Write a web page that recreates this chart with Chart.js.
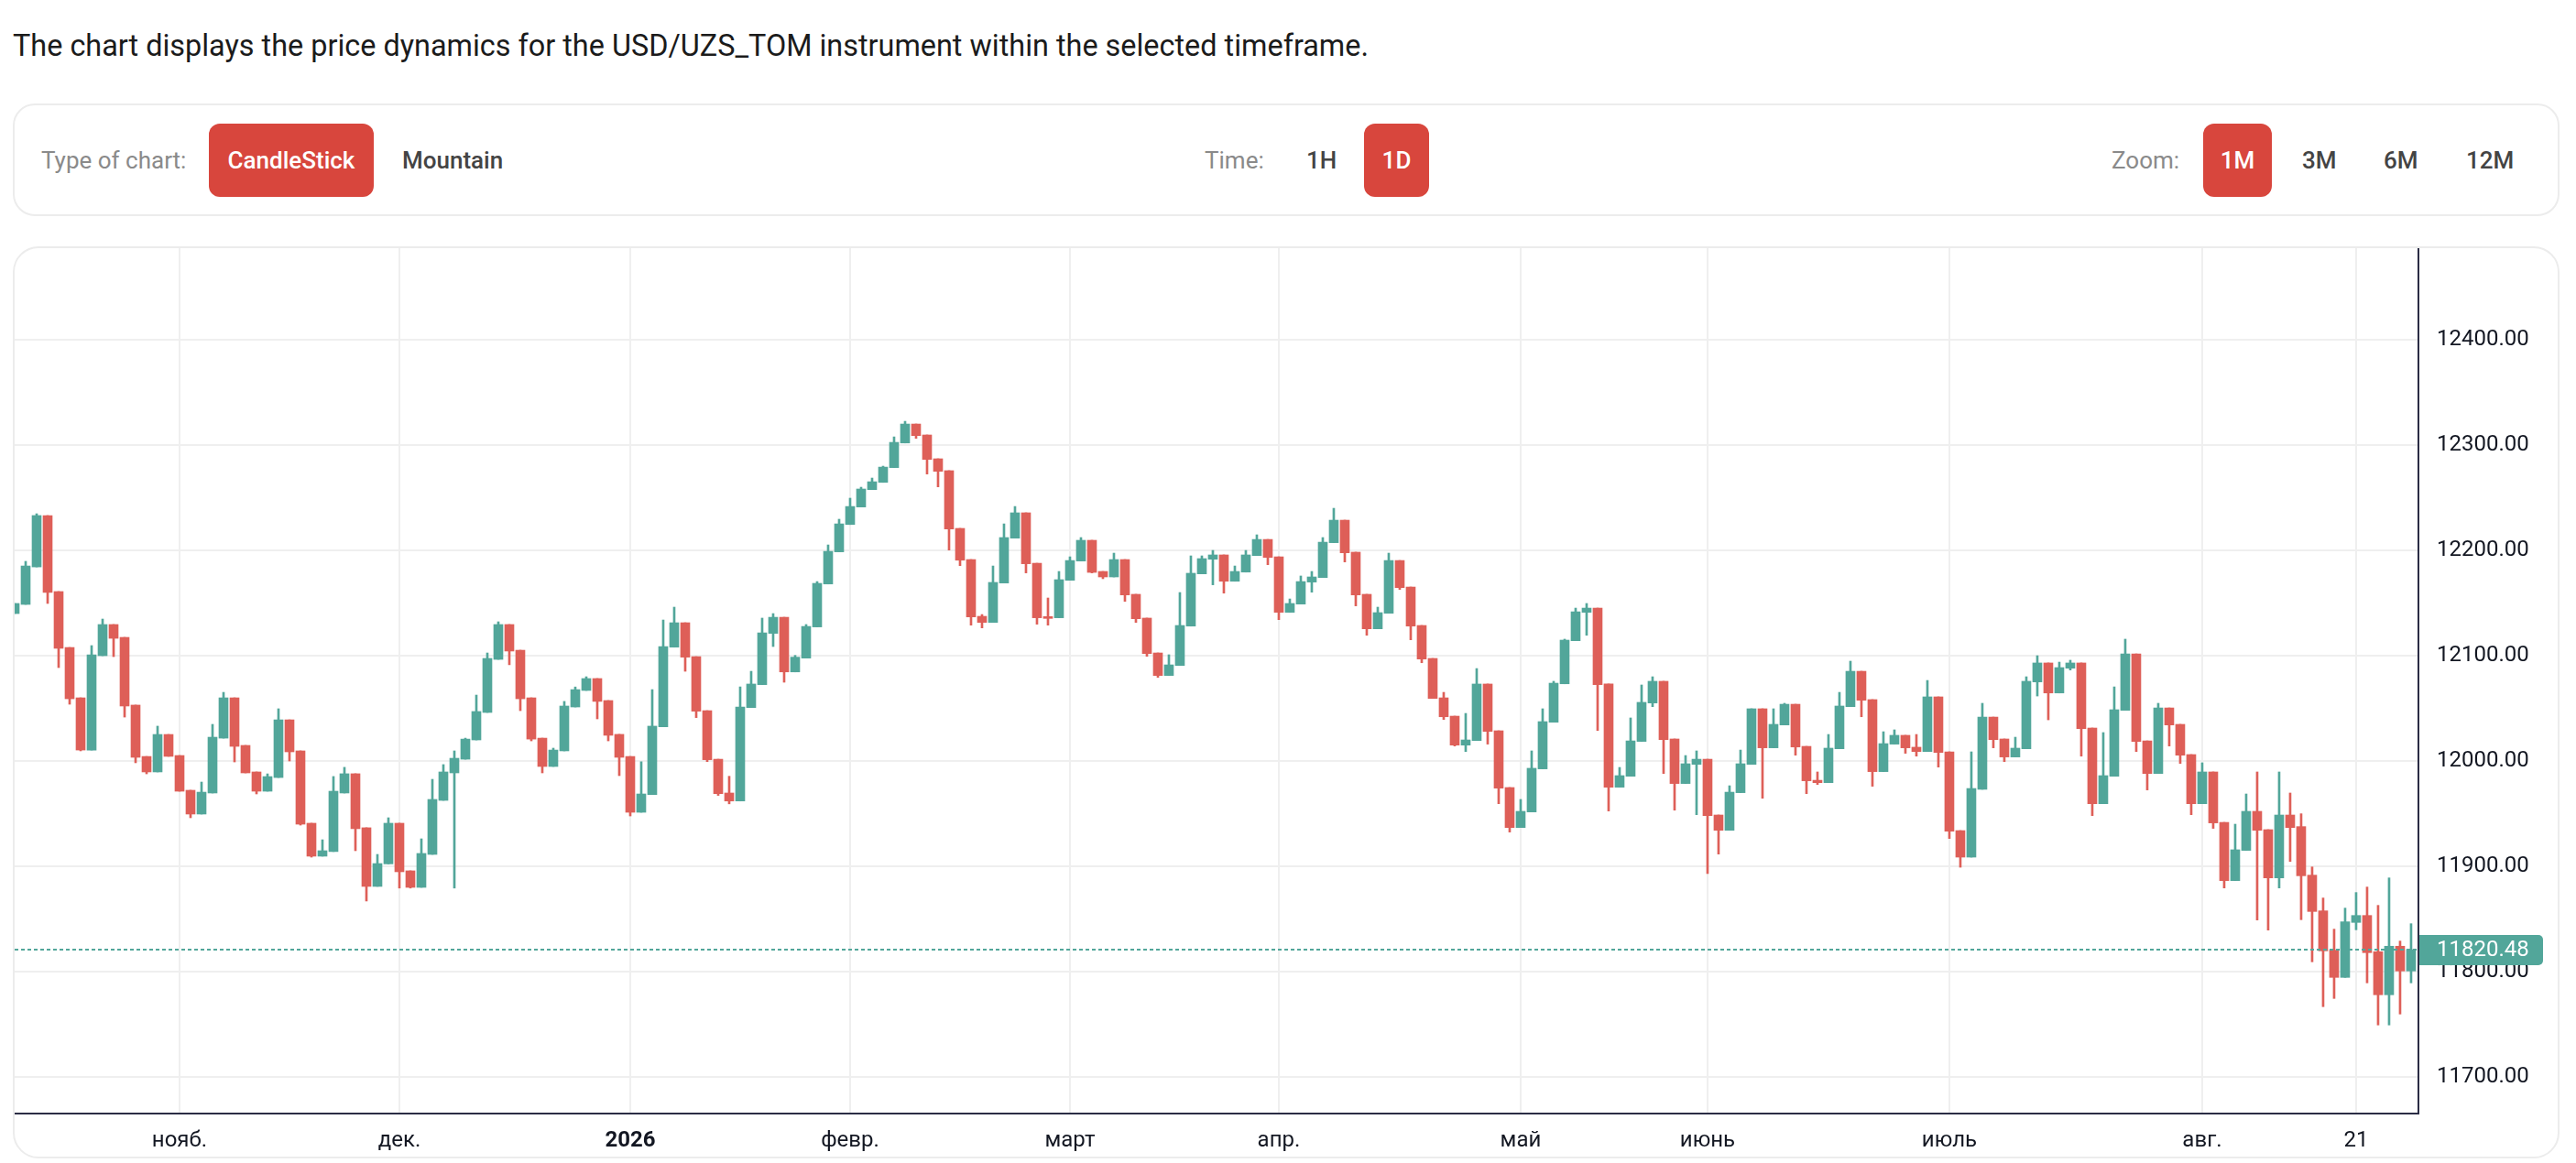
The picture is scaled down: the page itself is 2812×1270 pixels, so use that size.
<!DOCTYPE html>
<html>
<head>
<meta charset="utf-8">
<script src="https://cdn.jsdelivr.net/npm/chart.js@4.4.1/dist/chart.umd.min.js"></script>
<style>
  html, body { margin: 0; padding: 0; background: #ffffff; }
  body { width: 2812px; height: 1270px; position: relative; overflow: hidden; font-family: Roboto, "Noto Sans", sans-serif; }
  .abs { position: absolute; white-space: nowrap; }
  #title { left: 14px; top: 34px; height: 32px; line-height: 32px; font-size: 32.4px; color: #1b1b1b; }
  #controls { left: 14px; top: 113px; width: 2780px; height: 123px; box-sizing: border-box; border: 2px solid #ececec; border-radius: 24px; }
  .lbl { top: 135px; height: 80px; line-height: 80px; font-size: 26px; color: #8a8a8a; }
  .opt { top: 135px; height: 80px; line-height: 80px; font-size: 26px; color: #444444; font-weight: 500; }
  .btn { top: 135px; height: 80px; line-height: 80px; font-size: 26px; color: #ffffff; font-weight: 500; background: #d8463d; border-radius: 12px; text-align: center; }
  #card { left: 14px; top: 269px; width: 2780px; height: 996px; box-sizing: border-box; border: 2px solid #ececec; border-radius: 28px; overflow: hidden; }
  #wrap { position: absolute; left: 0; top: 0; width: 2776px; height: 992px; }
</style>
</head>
<body>
<div id="title" class="abs">The chart displays the price dynamics for the USD/UZS_TOM instrument within the selected timeframe.</div>
<div id="controls" class="abs"></div>
<div class="abs lbl" style="left:45px">Type of chart:</div>
<div class="abs btn" style="left:228px;width:180px">CandleStick</div>
<div class="abs opt" style="left:439px">Mountain</div>
<div class="abs lbl" style="left:1315px">Time:</div>
<div class="abs opt" style="left:1426px">1H</div>
<div class="abs btn" style="left:1489px;width:71px">1D</div>
<div class="abs lbl" style="left:2305px">Zoom:</div>
<div class="abs btn" style="left:2405px;width:75px">1M</div>
<div class="abs opt" style="left:2513px">3M</div>
<div class="abs opt" style="left:2602px">6M</div>
<div class="abs opt" style="left:2692px">12M</div>
<div id="card" class="abs"><div id="wrap"><canvas id="c"></canvas></div></div>
<script>
// ---- Data ----
const openP = [
12139.7,12148.4,12184.0,12232.8,12160.6,12107.5,12059.7,12010.1,12099.7,12129.3,
12117.1,12052.8,12004.0,11989.3,12024.9,12004.9,11971.9,11949.3,11969.3,12021.4,
12059.7,12014.5,11989.3,11971.0,11984.0,12038.8,12009.3,11940.6,11909.3,11913.7,
11969.3,11987.6,11936.3,11880.6,11902.0,11940.6,11895.4,11879.7,11911.0,11962.3,
11988.4,12001.4,12019.7,12045.8,12096.2,12129.3,12104.9,12059.7,12021.4,11994.5,
12009.3,12051.0,12066.7,12078.0,12057.1,12025.0,12004.0,11951.0,11967.8,12032.2,
12107.8,12131.0,12098.8,12047.5,12001.4,11969.3,11961.7,12050.4,12072.2,12120.9,
12136.2,12084.3,12097.4,12127.0,12167.8,12198.3,12224.3,12240.9,12257.4,12264.3,
12278.3,12301.7,12319.7,12309.3,12286.7,12275.4,12220.6,12191.0,12137.1,12131.3,
12168.7,12211.3,12235.4,12187.5,12136.8,12135.7,12171.3,12189.6,12209.3,12179.7,
12174.5,12191.0,12158.0,12135.4,12102.3,12080.9,12090.4,12127.8,12177.4,12191.3,
12195.4,12170.4,12179.1,12194.8,12210.1,12193.6,12140.9,12148.7,12169.6,12173.9,
12207.0,12228.4,12198.0,12158.0,12125.2,12140.0,12190.1,12164.9,12128.4,12097.1,
12059.7,12042.3,12014.8,12019.1,12072.8,12028.4,11974.5,11936.5,11951.3,11992.2,
12036.5,12073.0,12113.9,12140.9,12144.9,12072.8,11974.8,11985.2,12018.3,12054.8,
12075.4,12020.6,11978.3,11996.5,12001.4,11948.4,11933.9,11969.6,11996.5,12049.3,
12012.2,12033.9,12053.6,12013.6,11981.4,11979.1,12011.3,12051.3,12084.9,12058.0,
11989.6,12015.7,12024.1,12012.8,12008.7,12060.6,12008.4,11933.6,11908.4,11972.8,
12041.4,12020.6,12003.5,12011.3,12074.8,12092.8,12064.3,12087.8,12092.8,12031.0,
11959.1,11985.2,12047.8,12101.4,12018.8,11987.8,12050.1,12034.5,12005.8,11959.1,
11989.3,11941.4,11886.1,11914.8,11951.9,11934.5,11888.7,11948.4,11937.4,11891.3,
11857.4,11820.0,11794.2,11846.4,11853.0,11818.6,11777.7,11823.8,11800.3
];
const highP = [
12149.3,12189.3,12234.5,12232.8,12160.6,12107.5,12059.7,12109.3,12134.5,12129.3,
12117.1,12052.8,12004.0,12032.8,12024.9,12004.9,11971.9,11979.7,12034.5,12064.9,
12059.7,12014.5,11989.3,11987.5,12049.3,12038.8,12009.3,11940.6,11924.9,11985.0,
11993.7,11987.6,11936.3,11911.0,11945.8,11940.6,11895.4,11925.8,11982.3,11996.3,
12009.3,12021.4,12062.3,12102.3,12131.9,12129.3,12104.9,12059.7,12021.4,12011.9,
12056.3,12070.0,12079.7,12078.0,12057.1,12025.0,12004.0,11999.0,12067.5,12133.6,
12145.8,12131.0,12098.8,12047.5,12001.4,11985.2,12070.1,12084.9,12135.4,12139.7,
12136.2,12100.0,12129.3,12170.1,12204.9,12229.3,12249.3,12259.7,12268.4,12279.7,
12307.5,12322.3,12319.7,12309.3,12286.7,12275.4,12220.6,12191.0,12138.8,12184.9,
12224.9,12241.4,12235.4,12187.5,12154.5,12179.7,12193.6,12211.9,12209.3,12179.7,
12197.1,12191.0,12158.0,12135.4,12102.3,12100.6,12159.7,12194.5,12194.5,12199.7,
12195.4,12184.9,12199.7,12214.5,12210.1,12193.6,12153.6,12175.4,12179.7,12211.9,
12239.7,12228.4,12198.0,12158.0,12145.8,12197.1,12190.1,12164.9,12128.4,12097.1,
12064.9,12042.3,12044.9,12087.5,12072.8,12028.4,11974.5,11963.2,12009.3,12049.3,
12075.4,12115.4,12144.9,12149.3,12144.9,12072.8,11993.6,12040.6,12071.9,12079.7,
12075.4,12020.6,12004.9,12009.3,12001.4,11948.4,11976.2,12010.1,12049.3,12049.3,
12049.3,12054.5,12053.6,12013.6,11989.3,12024.9,12064.9,12094.5,12084.9,12058.0,
12027.5,12029.3,12024.1,12024.9,12076.2,12060.6,12008.4,11933.6,12008.4,12054.5,
12041.4,12020.6,12022.3,12079.7,12099.7,12092.8,12093.6,12095.4,12092.8,12031.0,
12026.7,12070.1,12115.4,12101.4,12018.8,12054.5,12050.1,12034.5,12005.8,11998.0,
11989.3,11941.4,11939.7,11968.4,11989.3,11934.5,11989.3,11969.3,11949.6,11899.1,
11869.6,11840.0,11860.0,11874.8,11880.0,11862.6,11888.7,11828.7,11845.2
];
const lowP = [
12139.7,12148.4,12184.0,12149.3,12088.4,12053.6,12009.3,12010.1,12099.7,12098.8,
12041.4,11998.0,11987.5,11989.3,12004.1,11971.0,11945.8,11949.3,11969.3,12021.4,
11998.8,11988.4,11968.4,11971.0,11984.0,11999.7,11938.8,11908.4,11909.3,11913.7,
11969.3,11914.5,11866.7,11880.6,11902.0,11879.0,11879.0,11879.7,11911.0,11962.3,
11879.0,12001.4,12019.7,12045.8,12096.2,12091.1,12047.5,12018.8,11988.4,11994.5,
12009.3,12051.0,12066.7,12039.7,12018.8,11985.8,11947.5,11951.0,11967.8,12032.2,
12107.8,12084.9,12040.9,11999.1,11967.0,11959.0,11961.7,12050.4,12072.2,12108.4,
12074.5,12084.3,12097.4,12127.0,12167.8,12198.3,12224.3,12240.9,12257.4,12264.3,
12278.3,12301.7,12306.1,12272.2,12260.0,12200.0,12185.2,12128.7,12126.1,12131.3,
12168.7,12211.3,12178.3,12129.6,12128.7,12135.7,12171.3,12189.6,12178.3,12172.8,
12174.5,12151.3,12131.3,12099.1,12079.1,12080.9,12090.4,12127.8,12177.4,12167.0,
12159.1,12170.4,12179.1,12194.8,12186.1,12133.9,12140.9,12148.7,12160.0,12173.9,
12207.0,12188.7,12147.0,12119.1,12125.2,12140.0,12162.6,12114.8,12093.0,12059.1,
12039.1,12013.9,12008.7,12019.1,12015.7,11959.1,11932.2,11936.5,11951.3,11992.2,
12036.5,12073.0,12113.9,12119.1,12028.7,11952.2,11974.8,11985.2,12018.3,12051.3,
11987.8,11953.0,11978.3,11948.7,11892.8,11911.3,11933.9,11969.6,11996.5,11964.3,
12012.2,12033.9,12005.2,11968.7,11977.4,11979.1,12011.3,12051.3,12041.7,11975.7,
11989.6,12015.7,12007.0,12004.3,12008.7,11993.9,11926.1,11898.8,11908.4,11972.8,
12012.2,11999.1,12003.5,12011.3,12061.4,12038.8,12064.3,12086.1,12004.3,11947.8,
11959.1,11985.2,12047.8,12008.7,11972.2,11987.8,12013.9,11997.4,11948.7,11959.1,
11935.7,11879.1,11886.1,11914.8,11848.7,11839.1,11879.1,11904.3,11849.0,11809.0,
11766.4,11774.2,11794.2,11839.4,11789.0,11749.0,11749.0,11759.4,11789.0
];
const closeP = [
12149.3,12184.9,12232.8,12159.7,12106.7,12058.8,12010.1,12100.6,12129.3,12116.2,
12051.9,12003.2,11989.3,12024.9,12004.1,11971.0,11949.3,11970.1,12022.3,12059.7,
12013.6,11988.4,11971.0,11984.9,12038.8,12008.4,11939.7,11909.3,11914.5,11971.0,
11987.6,11935.4,11880.6,11902.3,11940.6,11894.5,11879.7,11911.9,11963.2,11989.3,
12002.3,12020.5,12046.7,12097.1,12129.3,12104.1,12058.8,12020.5,11994.5,12010.1,
12051.9,12067.5,12078.0,12056.3,12024.1,12003.2,11951.0,11968.4,12032.8,12108.4,
12131.0,12098.3,12047.0,12000.9,11968.7,11961.7,12051.0,12072.8,12121.4,12136.2,
12084.3,12098.3,12127.5,12168.4,12198.8,12224.9,12241.4,12258.0,12264.9,12278.8,
12302.3,12319.7,12308.7,12286.1,12274.8,12220.0,12190.4,12136.5,12131.3,12169.3,
12211.9,12235.4,12187.0,12135.7,12135.1,12171.9,12190.1,12209.3,12178.8,12174.5,
12191.0,12157.4,12134.8,12101.7,12080.9,12091.0,12128.4,12178.0,12191.9,12195.4,
12170.4,12179.7,12195.4,12210.1,12193.0,12140.9,12149.3,12170.1,12174.5,12207.5,
12228.4,12197.4,12157.4,12125.2,12140.6,12190.1,12164.3,12127.8,12096.5,12059.1,
12041.7,12014.8,12019.7,12072.8,12027.8,11973.9,11936.5,11951.9,11992.8,12037.1,
12073.6,12114.5,12141.4,12144.9,12072.2,11974.8,11985.8,12018.8,12055.4,12075.4,
12020.0,11978.3,11997.1,12001.4,11947.8,11933.9,11970.1,11997.1,12049.3,12012.2,
12034.5,12053.6,12013.0,11980.9,11979.1,12011.9,12051.9,12084.9,12057.4,11989.6,
12016.2,12024.1,12012.2,12008.7,12060.6,12007.8,11933.0,11908.4,11973.6,12041.4,
12020.0,12003.5,12011.9,12075.4,12092.8,12064.3,12088.4,12092.8,12030.4,11959.1,
11985.8,12048.4,12101.4,12018.3,11987.8,12050.1,12033.9,12005.2,11959.1,11989.3,
11940.9,11886.1,11915.4,11951.9,11933.9,11888.7,11948.4,11936.5,11890.7,11856.8,
11819.4,11794.2,11847.0,11853.0,11817.7,11777.7,11823.8,11800.3,11820.48
];
// x-axis tick labels and the candle index where each one sits
const tickLabels = ['нояб.', 'дек.', '2026', 'февр.', 'март', 'апр.', 'май', 'июнь', 'июль', 'авг.', '21'];
const tickIndex  = [15, 35, 56, 76, 96, 115, 137, 154, 176, 199, 213];
const yTickValues = [11700, 11800, 11900, 12000, 12100, 12200, 12300, 12400];
const lastPrice = closeP[closeP.length - 1];

// ---- Styles ----
const UP = '#52a69a';
const DOWN = '#de5f58';
const GRID = '#efefef';
const AXIS = '#2b2d45';

const idx = closeP.map((_, i) => i);
const colors = idx.map(i => closeP[i] >= openP[i] ? UP : DOWN);

const priceLinePlugin = {
  id: 'priceLine',
  afterDatasetsDraw(chart) {
    const { ctx, chartArea } = chart;
    const y = chart.scales.y.getPixelForValue(lastPrice);
    ctx.save();
    ctx.strokeStyle = UP;
    ctx.lineWidth = 2;
    ctx.setLineDash([4, 3]);
    ctx.beginPath();
    ctx.moveTo(chartArea.left, y);
    ctx.lineTo(chartArea.right, y);
    ctx.stroke();
    ctx.restore();
  },
  afterDraw(chart) {
    const { ctx, chartArea } = chart;
    const y = chart.scales.y.getPixelForValue(lastPrice);
    const x = chartArea.right + 1;
    const w = 135, h = 33;
    ctx.save();
    ctx.fillStyle = UP;
    ctx.beginPath();
    ctx.roundRect(x, Math.round(y - h / 2), w, h, [0, 5, 5, 0]);
    ctx.fill();
    ctx.fillStyle = '#ffffff';
    ctx.font = '24px Roboto';
    ctx.textAlign = 'left';
    ctx.textBaseline = 'middle';
    ctx.fillText(lastPrice.toFixed(2), chartArea.right + 20, y + 1);
    ctx.restore();
  }
};

new Chart(document.getElementById('c'), {
  type: 'bar',
  data: {
    datasets: [
      {
        label: 'wick',
        data: idx.map(i => ({ x: i, y: [lowP[i], highP[i]] })),
        backgroundColor: colors,
        barThickness: 2,
        grouped: false,
        borderWidth: 0,
        minBarLength: 1
      },
      {
        label: 'body',
        data: idx.map(i => ({ x: i, y: [openP[i], closeP[i]] })),
        backgroundColor: colors,
        barThickness: 10,
        grouped: false,
        borderWidth: 0,
        minBarLength: 2
      }
    ]
  },
  options: {
    responsive: true,
    maintainAspectRatio: false,
    animation: false,
    events: [],
    layout: { padding: 0 },
    plugins: { legend: { display: false }, tooltip: { enabled: false } },
    scales: {
      x: {
        type: 'linear',
        min: 0,
        max: 218.67,
        offset: false,
        grid: { color: GRID, lineWidth: 2, drawTicks: false, offset: false },
        border: { color: AXIS, width: 2 },
        afterBuildTicks(scale) { scale.ticks = tickIndex.map(v => ({ value: v })); },
        afterFit(scale) { scale.height = 47; scale.paddingLeft = 0; scale.paddingRight = 0; },
        ticks: {
          autoSkip: false,
          maxRotation: 0,
          padding: 16,
          color: '#131722',
          font: (ctx) => ({ family: 'Roboto', size: 24, weight: (ctx.tick && tickLabels[tickIndex.indexOf(ctx.tick.value)] === '2026') ? 'bold' : 'normal' }),
          callback: (v) => { const k = tickIndex.indexOf(v); return k >= 0 ? tickLabels[k] : ''; }
        }
      },
      y: {
        position: 'right',
        min: 11664.9,
        max: 12486.7,
        grid: { color: GRID, lineWidth: 2, drawTicks: false },
        border: { color: AXIS, width: 2 },
        afterBuildTicks(scale) { scale.ticks = yTickValues.map(v => ({ value: v })); },
        afterFit(scale) { scale.width = 152; scale.paddingTop = 0; scale.paddingBottom = 0; },
        ticks: {
          padding: 20,
          color: '#131722',
          font: { family: 'Roboto', size: 24 },
          callback: (v) => Number(v).toFixed(2)
        }
      }
    }
  },
  plugins: [priceLinePlugin]
});
</script>
</body>
</html>
